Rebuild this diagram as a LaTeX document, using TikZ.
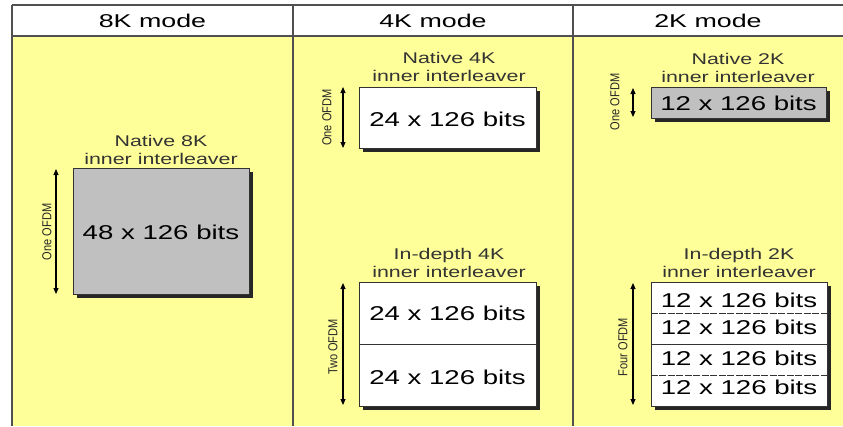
\documentclass[tikz,border=0pt]{standalone}
\usepackage{fontspec}
\setmainfont{Liberation Sans}
\newfontfamily\hdrfont[FakeStretch=1.45]{Liberation Sans}
\newfontfamily\widefont[FakeStretch=1.38]{Liberation Sans}
\newfontfamily\narrowfont[FakeStretch=0.85]{Liberation Sans}
\usetikzlibrary{shadows,arrows.meta}
\definecolor{cellyellow}{HTML}{FFFF99}
\definecolor{gridgray}{HTML}{505050}
\definecolor{boxgray}{HTML}{C0C0C0}
\definecolor{boxline}{HTML}{333333}
\begin{document}
\begin{tikzpicture}[x=1pt,y=-1pt,
  hdr/.style={font=\hdrfont\fontsize{18.5}{20}\selectfont, inner sep=0, anchor=center},
  ttl/.style={font=\widefont\fontsize{15.5}{18}\selectfont, align=center, inner sep=0, text=black!80},
  bits/.style={font=\widefont\fontsize{20}{22}\selectfont, inner sep=0},
  bitbox/.style={draw=boxline, line width=0.9pt, inner sep=0, anchor=center,
     drop shadow={shadow xshift=4pt, shadow yshift=-4pt, opacity=1, fill=black!85}},
  cell/.style={inner sep=0, anchor=center},
  ofdm/.style={font=\narrowfont\fontsize{13}{14}\selectfont, rotate=90, inner sep=0, anchor=center, text=black!85},
  dimarrow/.style={line width=1.1pt, {Triangle[length=6pt,width=5pt]}-{Triangle[length=6pt,width=5pt]}},
  grid/.style={draw=gridgray, line width=1.5pt},
  divider/.style={draw=boxline, line width=0.8pt}
]
\useasboundingbox (0,0) rectangle (843,426);
% table background
\fill[white] (12,5) rectangle (843,36);
\fill[cellyellow] (12,36) rectangle (843,426);
\draw[grid] (12,5) -- (843,5);
\draw[grid] (12,36) -- (843,36);
\draw[grid] (12,5) -- (12,426);
\draw[grid] (293,5) -- (293,426);
\draw[grid] (573,5) -- (573,426);
% headers
\node[hdr] (h8) at (152.5,21) {8K mode};
\node[hdr] (h4) at (433,21) {4K mode};
\node[hdr] (h2) at (708,21) {2K mode};

% ---- 8K native
\node[ttl] (t8) at (161,150) {Native 8K\\inner interleaver};
\node[bitbox, fill=boxgray, minimum width=176pt, minimum height=126pt] (b8) at (161,231) {};
\node[bits] (b8t) at (161,232) {48 x 126 bits};
\coordinate (a8t) at (56,169);
\coordinate (a8b) at (56,294);
\draw[dimarrow] (a8t) -- (a8b);
\node[ofdm] (l8) at (47,232) {One OFDM};

% ---- 4K native
\node[ttl] (t4n) at (449,67) {Native 4K\\inner interleaver};
\node[bitbox, fill=white, minimum width=177pt, minimum height=61pt] (b4n) at (447.5,117.5) {};
\node[bits] (b4nt) at (447.5,119) {24 x 126 bits};
\coordinate (a4nt) at (343,87);
\coordinate (a4nb) at (343,148);
\draw[dimarrow] (a4nt) -- (a4nb);
\node[ofdm] (l4n) at (327,117.5) {One OFDM};

% ---- 2K native
\node[ttl] (t2n) at (738,67.5) {Native 2K\\inner interleaver};
\node[bitbox, fill=boxgray, minimum width=175pt, minimum height=31pt] (b2n) at (738.5,102.5) {};
\node[bits] (b2nt) at (738.5,103.5) {12 x 126 bits};
\coordinate (a2nt) at (633,88);
\coordinate (a2nb) at (633,117);
\draw[dimarrow] (a2nt) -- (a2nb);
\node[ofdm] (l2n) at (615,102) {One OFDM};

% ---- 4K in-depth
\node[ttl] (t4d) at (449,263) {In-depth 4K\\inner interleaver};
\node[bitbox, fill=white, minimum width=177pt, minimum height=124pt] (b4d) at (447.5,344) {};
\node[cell, minimum width=177pt, minimum height=62pt] (c4a) at (447.5,313) {};
\node[cell, minimum width=177pt, minimum height=62pt] (c4b) at (447.5,375) {};
\node[bits] (c4at) at (447.5,313.5) {24 x 126 bits};
\node[bits] (c4bt) at (447.5,377) {24 x 126 bits};
\draw[divider] (c4a.south west) -- (c4a.south east);
\coordinate (a4dt) at (343,283);
\coordinate (a4db) at (343,405);
\draw[dimarrow] (a4dt) -- (a4db);
\node[ofdm] (l4d) at (333,347) {Two OFDM};

% ---- 2K in-depth
\node[ttl] (t2d) at (739,263) {In-depth 2K\\inner interleaver};
\node[bitbox, fill=white, minimum width=176pt, minimum height=124pt] (b2d) at (739,344) {};
\node[cell, minimum width=176pt, minimum height=31pt] (c2a) at (739,297.5) {};
\node[cell, minimum width=176pt, minimum height=31pt] (c2b) at (739,328.5) {};
\node[cell, minimum width=176pt, minimum height=31pt] (c2c) at (739,359.5) {};
\node[cell, minimum width=176pt, minimum height=31pt] (c2d) at (739,390.5) {};
\node[bits] (c2at) at (739,300) {12 x 126 bits};
\node[bits] (c2bt) at (739,327.5) {12 x 126 bits};
\node[bits] (c2ct) at (739,358) {12 x 126 bits};
\node[bits] (c2dt) at (739,387.5) {12 x 126 bits};
\draw[divider, dash pattern=on 7pt off 1.5pt] (c2a.south west) -- (c2a.south east);
\draw[divider] (c2b.south west) -- (c2b.south east);
\draw[divider, dash pattern=on 7pt off 1.5pt] (c2c.south west) -- (c2c.south east);
\coordinate (a2dt) at (633,283);
\coordinate (a2db) at (633,405);
\draw[dimarrow] (a2dt) -- (a2db);
\node[ofdm] (l2d) at (623,347) {Four OFDM};
\end{tikzpicture}
\end{document}
